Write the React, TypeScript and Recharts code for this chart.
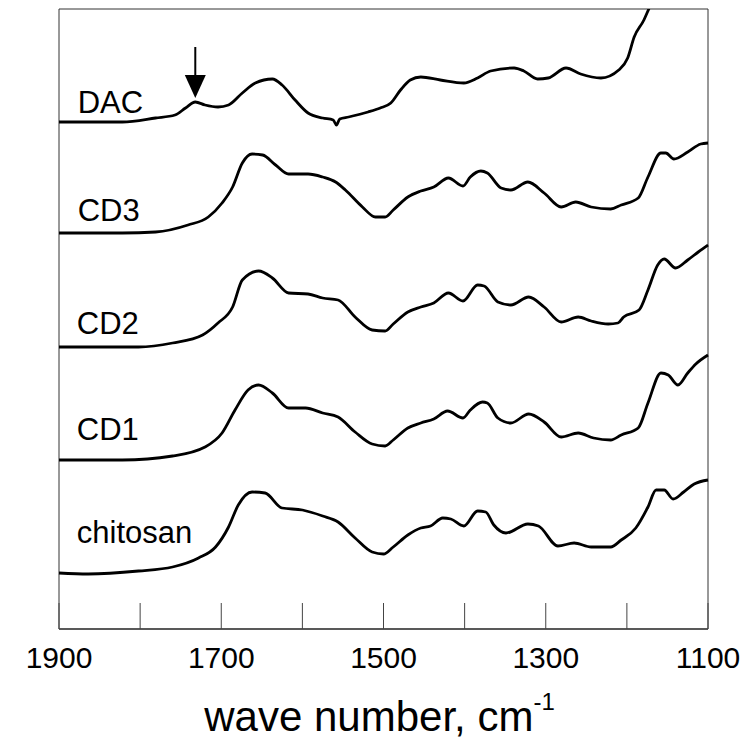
import { LineChart, Line, XAxis, YAxis, ReferenceArea, ReferenceDot } from "recharts";

// wave number ticks (every 100) and the ones carrying a label
const xTicks = [1900, 1800, 1700, 1600, 1500, 1400, 1300, 1200, 1100];
const xTickLabels = [1900, 1700, 1500, 1300, 1100];

// spectra: [wave number, offset absorbance (arb.)]
const dac: [number, number][] = [
  [1900, 507], [1822, 507], [1781, 511], [1757, 514], [1744, 521], [1732, 527],
  [1720, 524], [1704, 522], [1691, 524], [1674, 536], [1658, 546], [1637, 550],
  [1625, 544], [1609, 529], [1593, 516], [1575, 511], [1562, 509], [1558, 504],
  [1554, 510], [1543, 512], [1519, 517], [1504, 521], [1491, 526], [1479, 539],
  [1467, 549], [1454, 552], [1430, 549], [1401, 546], [1384, 551], [1368, 558],
  [1339, 561], [1327, 558], [1310, 550], [1297, 551], [1275, 561], [1257, 555],
  [1232, 551], [1210, 559], [1199, 571], [1191, 592], [1179, 609], [1173, 620],
  [1158, 649], [1130, 700], [1100, 750],
];

const cd3: [number, number][] = [
  [1900, 396], [1822, 396], [1781, 397], [1741, 404], [1716, 412], [1699, 426],
  [1686, 442], [1674, 466], [1662, 475], [1649, 474], [1633, 464], [1617, 455],
  [1593, 455], [1575, 452], [1559, 447], [1547, 439], [1526, 422], [1510, 412],
  [1498, 412], [1488, 419], [1470, 432], [1454, 438], [1438, 442], [1420, 451],
  [1402, 443], [1393, 452], [1380, 458], [1372, 456], [1355, 441], [1343, 439],
  [1322, 447], [1302, 436], [1281, 422], [1263, 427], [1244, 422], [1220, 420],
  [1207, 424], [1186, 431], [1174, 452], [1158, 476], [1152, 476], [1142, 470],
  [1125, 477], [1109, 485], [1100, 486],
];

const cd2: [number, number][] = [
  [1900, 282], [1802, 282], [1760, 286], [1723, 294], [1704, 306], [1686, 322],
  [1674, 349], [1654, 358], [1637, 351], [1617, 336], [1593, 335], [1575, 331],
  [1556, 329], [1535, 312], [1514, 299], [1498, 298], [1488, 305], [1470, 317],
  [1454, 322], [1438, 326], [1420, 336], [1402, 328], [1384, 344], [1376, 343],
  [1359, 327], [1343, 324], [1321, 332], [1302, 322], [1281, 307], [1260, 312],
  [1244, 308], [1223, 305], [1211, 306], [1204, 312], [1185, 319], [1174, 339],
  [1162, 364], [1154, 370], [1140, 361], [1125, 369], [1112, 377], [1100, 384],
];

const cd1: [number, number][] = [
  [1900, 169], [1822, 169], [1760, 173], [1720, 182], [1699, 196], [1683, 219],
  [1667, 239], [1654, 244], [1637, 236], [1617, 221], [1596, 221], [1575, 216],
  [1556, 212], [1535, 197], [1514, 185], [1498, 183], [1488, 189], [1470, 201],
  [1454, 206], [1438, 210], [1421, 218], [1402, 211], [1393, 219], [1378, 227],
  [1372, 226], [1359, 211], [1343, 206], [1321, 215], [1302, 207], [1281, 192],
  [1260, 196], [1241, 191], [1220, 189], [1207, 194], [1186, 201], [1174, 226],
  [1158, 256], [1149, 254], [1137, 244], [1125, 256], [1115, 265], [1100, 274],
];

const chitosan: [number, number][] = [
  [1900, 56], [1864, 55], [1802, 58], [1760, 62], [1728, 71], [1707, 82],
  [1691, 102], [1679, 124], [1662, 137], [1646, 136], [1625, 121], [1600, 119],
  [1575, 113], [1556, 107], [1535, 91], [1514, 77], [1500, 75], [1488, 82],
  [1470, 94], [1454, 101], [1442, 103], [1427, 111], [1417, 110], [1401, 103],
  [1384, 118], [1374, 117], [1364, 104], [1349, 96], [1322, 105], [1309, 103],
  [1285, 83], [1265, 86], [1244, 82], [1220, 82], [1207, 89], [1189, 101],
  [1174, 122], [1164, 139], [1154, 139], [1143, 130], [1130, 137], [1117, 145],
  [1100, 149],
];

const seriesNames = ["DAC", "CD3", "CD2", "CD1", "chitosan"];
const seriesPoints = [dac, cd3, cd2, cd1, chitosan];

// label anchors (left baseline of each sample name)
const labelWn = [1877, 1877, 1878, 1878, 1878];
const labelA = [516, 408, 295, 189, 86];

// arrow marks the DAC aldehyde shoulder
const arrowAt = { wn: 1732, a: 531 };

const FONT = "'Liberation Sans', Arial, Helvetica, sans-serif";

const toRows = (pts: [number, number][]) => pts.map(([wn, a]) => ({ wn, a }));

const TickText = (props: any) => {
  const { x, y, payload } = props;
  const show = xTickLabels.includes(payload.value);
  if (!show) return null;
  return (
    <text x={x} y={y} dy={21} textAnchor="middle" fill="#000" fontSize={30} fontFamily={FONT}>
      {payload.value}
    </text>
  );
};

const AxisTitle = (props: any) => {
  const vb = props.viewBox || { x: 51, y: 621, width: 649 };
  const cx = vb.x + vb.width / 2 - 4;
  return (
    <text x={cx} y={vb.y + 102} textAnchor="middle" fill="#000" fontSize={42} fontFamily={FONT}>
      wave number, cm
      <tspan fontSize={24} dy={-21}>-1</tspan>
    </text>
  );
};

const Arrow = (props: any) => {
  const { cx, cy } = props;
  if (cx == null || cy == null) return null;
  return (
    <g>
      <line x1={cx} x2={cx} y1={cy - 51} y2={cy - 20} stroke="#000" strokeWidth={2} />
      <polygon points={`${cx - 10.5},${cy - 23} ${cx + 10.5},${cy - 23} ${cx},${cy}`} fill="#000" />
    </g>
  );
};

const makeLabel = (text: string) => (props: any) => {
  const { cx, cy } = props;
  if (cx == null || cy == null) return null;
  return (
    <text x={cx} y={cy} fill="#000" fontSize={31} fontFamily={FONT}>
      {text}
    </text>
  );
};

export default function App() {
  return (
    <LineChart width={733} height={733} margin={{ top: 1, right: 33, bottom: 0, left: 51 }}>
      <XAxis
        type="number"
        dataKey="wn"
        domain={[1100, 1900]}
        reversed
        ticks={xTicks}
        interval={0}
        tickSize={-26}
        tickMargin={44}
        tick={<TickText />}
        tickLine={{ stroke: "#444", strokeWidth: 1 }}
        axisLine={{ stroke: "#444", strokeWidth: 1.5 }}
        height={112}
        label={<AxisTitle />}
      />
      <YAxis type="number" domain={[0, 620]} allowDataOverflow hide />
      <ReferenceArea x1={1900} x2={1100} y1={0} y2={620} fill="none" stroke="#333" strokeWidth={1} ifOverflow="visible" />
      <ReferenceArea x1={1900} x2={1900} y1={0} y2={620} fill="none" stroke="#888" strokeWidth={2} ifOverflow="visible" />
      {seriesPoints.map((pts, i) => (
        <Line
          key={seriesNames[i]}
          data={toRows(pts)}
          dataKey="a"
          type="monotone"
          stroke="#000"
          strokeWidth={2.8}
          dot={false}
          activeDot={false}
          isAnimationActive={false}
        />
      ))}
      {seriesNames.map((name, i) => (
        <ReferenceDot key={`lbl-${name}`} x={labelWn[i]} y={labelA[i]} r={0} shape={makeLabel(name)} ifOverflow="visible" />
      ))}
      <ReferenceDot x={arrowAt.wn} y={arrowAt.a} r={0} shape={<Arrow />} ifOverflow="visible" />
    </LineChart>
  );
}
